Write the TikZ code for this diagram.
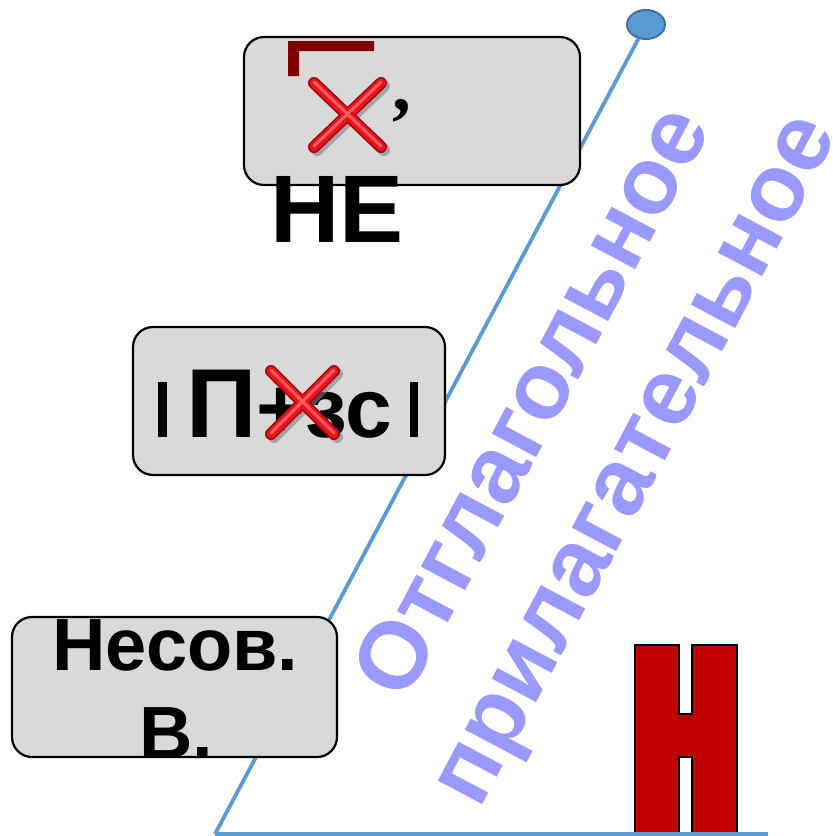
\documentclass[tikz,border=0pt]{standalone}
\usepackage{fontspec}
\setmainfont{Liberation Sans}
\newfontfamily\commafont{Liberation Serif}
\usetikzlibrary{shapes.geometric}
\definecolor{boxgray}{HTML}{D9D9D9}
\definecolor{lineblue}{HTML}{5B9BD5}
\definecolor{dotedge}{HTML}{41719C}
\definecolor{lav}{HTML}{9999FF}
\definecolor{markred}{HTML}{7F0000}
\definecolor{bigred}{HTML}{C00000}
\definecolor{xred}{HTML}{E8141C}
\definecolor{xdark}{HTML}{A3000A}
\definecolor{xlight}{HTML}{FF5A5F}
\newcommand\fsz[1]{\fontsize{#1}{#1}\selectfont}
\newcommand\drawredx[4]{%
  \draw[black!50,opacity=0.6,line width=12pt,line cap=round]
    (#1-#3+3,#2-#4+3) -- (#1+#3+3,#2+#4+3) (#1+#3+3,#2-#4+3) -- (#1-#3+3,#2+#4+3);
  \draw[xdark,line width=12pt,line cap=round]
    (#1-#3,#2-#4) -- (#1+#3,#2+#4) (#1+#3,#2-#4) -- (#1-#3,#2+#4);
  \draw[xred,line width=9pt,line cap=round]
    (#1-#3,#2-#4) -- (#1+#3,#2+#4) (#1+#3,#2-#4) -- (#1-#3,#2+#4);
  \draw[xlight,line width=3pt,line cap=round]
    (#1-#3,#2-#4-1) -- (#1+#3,#2+#4-1) (#1+#3,#2-#4-1) -- (#1-#3,#2+#4-1);
}
\begin{document}
\begin{tikzpicture}[x=1pt,y=-1pt,
  box/.style={draw=black,line width=2.2pt,fill=boxgray,rounded corners=20pt,inner sep=0pt},
  bigtext/.style={font=\bfseries,inner sep=0pt,text=black},
  lavtext/.style={font=\bfseries\fsz{95},inner sep=0pt,text=lav,rotate=62},
  blueline/.style={draw=lineblue,line width=3.8pt},
]
\useasboundingbox (0,0) rectangle (833,836);

% blue guide lines
\node[ellipse,draw=dotedge,line width=2pt,fill=lineblue,minimum width=38pt,minimum height=29pt,inner sep=0pt] (dot) at (646,24.5) {};
\coordinate (base) at (215,834);
\coordinate (bend) at (768,834);
\draw[blueline] (base) -- (dot);

% rotated labels
\node[lavtext] (t1) at (530,400) {Отглагольное};
\node[lavtext] (t2) at (645,465) {прилагательное};

% big red letter
\begin{scope}
\clip (0,0) rectangle (833,836);
\filldraw[fill=bigred,draw=black,line width=2pt]
  (635,645) -- (679,645) -- (679,714) -- (692,714) -- (692,645) -- (737,645)
  -- (737,850) -- (692,850) -- (692,757) -- (679,757) -- (679,850) -- (635,850) -- cycle;
\end{scope}
\draw[blueline] (base) -- (bend);

% box 1
\node[box,minimum width=336pt,minimum height=148pt] (b1) at (412,111) {};
\fill[markred] (288,41) -- (374,41) -- (374,51) -- (299,51) -- (299,76) -- (288,76) -- cycle;
\drawredx{347.5}{115}{33.5}{32}
\node[inner sep=0pt,anchor=base west,font=\commafont\bfseries\fsz{75}] (comma) at (392,110) {,};
\node[bigtext,anchor=base west,font=\bfseries\fsz{96}] (ne) at (270,242) {НЕ};

% box 2
\node[box,minimum width=312pt,minimum height=148pt] (b2) at (289,401) {};
\fill[black] (158,382) rectangle (167,437);
\fill[black] (410,382) rectangle (418,437);
\node[bigtext,anchor=base west] (f2) at (186,437) {{\fsz{98}П}{\fsz{84}+зс}};
\drawredx{302.5}{402.5}{31.5}{31.5}

% box 3
\node[box,minimum width=325pt,minimum height=140pt] (b3) at (174.5,687) {};
\node[bigtext,anchor=base,font=\bfseries\fsz{74}] (n1) at (175.5,670) {Несов.};
\node[bigtext,anchor=base,font=\bfseries\fsz{74}] (n2) at (176,758) {В.};
\end{tikzpicture}
\end{document}
